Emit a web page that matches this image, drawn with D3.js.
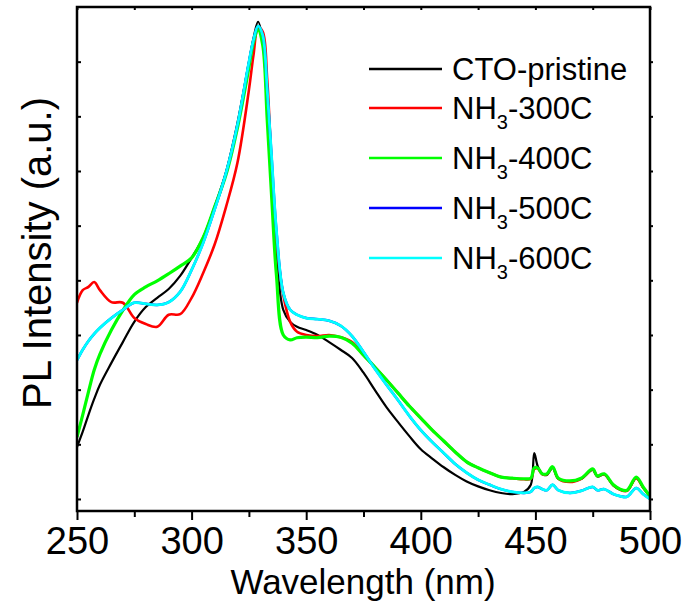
<!DOCTYPE html>
<html>
<head>
<meta charset="utf-8">
<script src="https://cdn.jsdelivr.net/npm/d3@7"></script>
<style>
  body { margin: 0; background: #fff; }
  svg { display: block; font-family: "Liberation Sans", Arial, sans-serif; }
</style>
</head>
<body>
<svg id="chart"></svg>
<script>
// wavelength grid (nm) shared by all spectra
const wavelength = [250, 252.5, 255, 257.5, 260, 265, 270, 275, 280, 285, 290, 295, 300, 305, 310, 315, 320, 325, 327, 329,
  331, 333, 335, 337, 340, 343, 346, 350, 355, 360, 365, 370, 375, 380, 385, 390, 395, 400, 405, 410,
  415, 420, 425, 430, 435, 440, 445, 448, 449.5, 451, 453, 455, 457.5, 460, 465, 470, 475, 477, 480, 484,
  487, 490, 494, 497, 500];

// PL intensity (a.u.)
const ctoPristine = [0.95, 1.23, 1.54, 1.83, 2.09, 2.49, 2.87, 3.24, 3.51, 3.68, 3.84, 4.08, 4.41, 4.78, 5.34, 5.98, 6.88, 7.99, 8.43, 8.73,
  8.40, 7.12, 5.84, 4.46, 3.46, 3.24, 3.15, 3.09, 3.00, 2.87, 2.73, 2.58, 2.31, 1.99, 1.68, 1.41, 1.15, 0.91, 0.74, 0.58,
  0.44, 0.32, 0.23, 0.16, 0.11, 0.09, 0.13, 0.26, 0.84, 0.60, 0.46, 0.44, 0.57, 0.37, 0.32, 0.37, 0.53, 0.41, 0.45, 0.25,
  0.17, 0.15, 0.38, 0.21, 0.04];
const nh3300 = [3.59, 3.82, 3.88, 3.97, 3.82, 3.60, 3.59, 3.31, 3.20, 3.15, 3.37, 3.38, 3.68, 4.13, 4.65, 5.34, 6.15, 7.48, 8.12, 8.62,
  8.55, 7.67, 6.02, 4.74, 3.73, 3.24, 3.06, 3.00, 2.98, 3.00, 2.96, 2.87, 2.63, 2.41, 2.18, 1.94, 1.70, 1.48, 1.26, 1.06,
  0.86, 0.68, 0.57, 0.48, 0.40, 0.38, 0.36, 0.37, 0.55, 0.56, 0.45, 0.45, 0.58, 0.37, 0.31, 0.37, 0.54, 0.42, 0.45, 0.25,
  0.17, 0.15, 0.38, 0.21, 0.05];
const nh3400 = [1.13, 1.54, 1.96, 2.36, 2.65, 3.09, 3.45, 3.74, 3.88, 3.99, 4.12, 4.26, 4.41, 4.78, 5.34, 5.93, 6.79, 7.89, 8.36, 8.58,
  8.31, 6.93, 5.47, 4.10, 3.00, 2.91, 2.95, 2.96, 2.95, 2.98, 2.96, 2.85, 2.63, 2.41, 2.18, 1.94, 1.70, 1.48, 1.26, 1.06,
  0.86, 0.68, 0.57, 0.48, 0.40, 0.38, 0.37, 0.38, 0.57, 0.57, 0.46, 0.46, 0.59, 0.38, 0.33, 0.38, 0.55, 0.42, 0.46, 0.26,
  0.18, 0.16, 0.40, 0.22, 0.05];
// NH3-500C lies under the NH3-600C trace everywhere
const nh3500 = [2.54, 2.73, 2.89, 3.02, 3.13, 3.31, 3.46, 3.59, 3.57, 3.55, 3.60, 3.79, 4.19, 4.68, 5.29, 5.96, 6.84, 7.99, 8.40, 8.65,
  8.49, 7.48, 6.20, 4.92, 3.77, 3.46, 3.37, 3.31, 3.29, 3.26, 3.17, 2.98, 2.69, 2.38, 2.09, 1.81, 1.52, 1.26, 1.04, 0.84,
  0.64, 0.48, 0.35, 0.26, 0.18, 0.13, 0.11, 0.13, 0.20, 0.22, 0.18, 0.16, 0.26, 0.16, 0.11, 0.15, 0.22, 0.16, 0.18, 0.09,
  0.05, 0.04, 0.20, 0.09, 0.00];
const nh3600 = [2.54, 2.73, 2.89, 3.02, 3.13, 3.31, 3.46, 3.59, 3.57, 3.55, 3.60, 3.79, 4.19, 4.68, 5.29, 5.96, 6.84, 7.99, 8.40, 8.65,
  8.49, 7.48, 6.20, 4.92, 3.77, 3.46, 3.37, 3.31, 3.29, 3.26, 3.17, 2.98, 2.69, 2.38, 2.09, 1.81, 1.52, 1.26, 1.04, 0.84,
  0.64, 0.48, 0.35, 0.26, 0.18, 0.13, 0.11, 0.13, 0.20, 0.22, 0.18, 0.16, 0.26, 0.16, 0.11, 0.15, 0.22, 0.16, 0.18, 0.09,
  0.05, 0.04, 0.20, 0.09, 0.00];

const seriesNames = ['CTO-pristine', 'NH3-300C', 'NH3-400C', 'NH3-500C', 'NH3-600C'];
const seriesValues = [ctoPristine, nh3300, nh3400, nh3500, nh3600];
const seriesColors = ['#000000', '#ff0000', '#00ff00', '#0000ff', '#00ffff'];

const xTickValues = [250, 300, 350, 400, 450, 500];
const xMinorTicks = [275, 325, 375, 425, 475];
const yTickValues = [0, 1, 2, 3, 4, 5, 6, 7, 8];

class SpectraChart {
  constructor(_config) {
    this.config = {
      parentElement: _config.parentElement,
      containerWidth: _config.containerWidth,
      containerHeight: _config.containerHeight,
      margin: {top: 7, right: 38, bottom: 100, left: 77},
    }
    this.initVis();
  }

  initVis() {
    let vis = this;

    vis.width = vis.config.containerWidth - vis.config.margin.left - vis.config.margin.right;
    vis.height = vis.config.containerHeight - vis.config.margin.top - vis.config.margin.bottom;

    vis.xScale = d3.scaleLinear()
        .domain([250, 500])
        .range([0, vis.width]);

    vis.yScale = d3.scaleLinear()
        .domain([-0.22, 9])
        .range([vis.height, 0]);

    vis.svg = d3.select(vis.config.parentElement)
        .attr('width', vis.config.containerWidth)
        .attr('height', vis.config.containerHeight);

    vis.chart = vis.svg.append('g')
        .attr('transform', `translate(${vis.config.margin.left},${vis.config.margin.top})`);

    vis.chart.append('clipPath')
        .attr('id', 'plot-clip')
      .append('rect')
        .attr('width', vis.width)
        .attr('height', vis.height);

    vis.renderVis();
  }

  renderVis() {
    let vis = this;

    const line = d3.line()
        .x(d => vis.xScale(d[0]))
        .y(d => vis.yScale(d[1]))
        .curve(d3.curveCatmullRom.alpha(0.5));

    const widths = [2.2, 2.6, 3.2, 2.5, 2.8];
    vis.chart.append('g')
        .attr('clip-path', 'url(#plot-clip)')
      .selectAll('path')
      .data(seriesValues)
      .join('path')
        .attr('fill', 'none')
        .attr('stroke', (d, i) => seriesColors[i])
        .attr('stroke-width', (d, i) => widths[i])
        .attr('stroke-linejoin', 'round')
        .attr('d', vals => line(vals.map((v, j) => [wavelength[j], v])));

    // axes
    const xAxis = d3.axisBottom(vis.xScale).tickValues(xTickValues).tickSize(9).tickFormat(d3.format('d'));
    const xMinor = d3.axisBottom(vis.xScale).tickValues(xMinorTicks).tickSize(6).tickFormat('');
    const xTop = d3.axisTop(vis.xScale).tickValues(xTickValues.concat(xMinorTicks)).tickSize(-3).tickFormat('');
    const yLeft = d3.axisLeft(vis.yScale).tickValues(yTickValues).tickSize(-4).tickFormat('');
    const yRight = d3.axisRight(vis.yScale).tickValues(yTickValues).tickSize(3).tickFormat('');

    const xAxisG = vis.chart.append('g')
        .attr('class', 'axis x-axis')
        .attr('transform', `translate(0,${vis.height})`)
        .call(xAxis);
    xAxisG.selectAll('text')
        .attr('y', 16)
        .attr('fill', '#000')
        .style('font-size', '38px');

    vis.chart.append('g')
        .attr('transform', `translate(0,${vis.height})`)
        .call(xMinor);
    vis.chart.append('g').call(xTop);
    vis.chart.append('g').call(yLeft);
    vis.chart.append('g')
        .attr('transform', `translate(${vis.width},0)`)
        .call(yRight);

    vis.chart.selectAll('.domain').remove();
    vis.chart.selectAll('.tick line')
        .attr('stroke', '#000')
        .attr('stroke-width', 2);

    vis.chart.append('rect')
        .attr('width', vis.width)
        .attr('height', vis.height)
        .attr('fill', 'none')
        .attr('stroke', '#000')
        .attr('stroke-width', 2.5);

    // axis titles
    vis.svg.append('text')
        .attr('x', 363)
        .attr('y', 594)
        .attr('text-anchor', 'middle')
        .style('font-size', '35px')
        .text('Wavelength (nm)');

    vis.svg.append('text')
        .attr('transform', 'translate(51,253) rotate(-90)')
        .attr('text-anchor', 'middle')
        .style('font-size', '40px')
        .text('PL Intensity (a.u.)');

    // legend
    const legendY = [69, 108, 158, 208, 258];
    const legend = vis.svg.append('g');
    seriesNames.forEach((name, i) => {
      const g = legend.append('g')
          .attr('transform', `translate(369,${legendY[i]})`);
      g.append('line')
          .attr('x1', 0).attr('x2', 73)
          .attr('stroke', seriesColors[i])
          .attr('stroke-width', 2.5);
      const t = g.append('text')
          .attr('x', 83)
          .attr('y', 11)
          .style('font-size', '31px');
      if (name.startsWith('NH3')) {
        t.append('tspan').text('NH');
        t.append('tspan').attr('dy', 10).style('font-size', '20px').text('3');
        t.append('tspan').attr('dy', -10).text(name.slice(3));
      } else {
        t.text(name);
      }
    });
  }
}

new SpectraChart({parentElement: '#chart', containerWidth: 688, containerHeight: 611});
</script>
</body>
</html>
